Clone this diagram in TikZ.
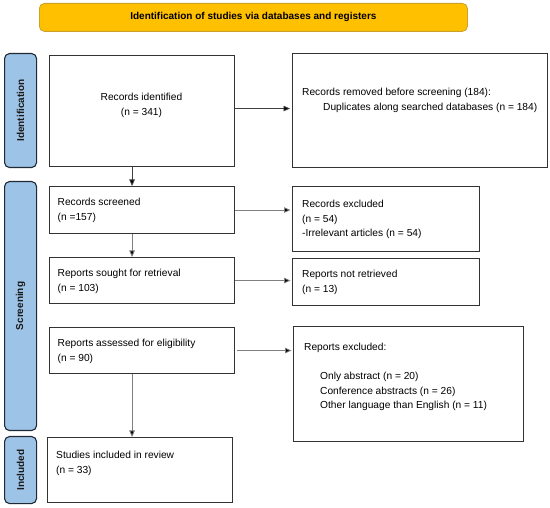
\documentclass[tikz,border=0pt]{standalone}
\usepackage{fontspec}
\setmainfont{Liberation Sans}
\usetikzlibrary{arrows.meta,calc}
\definecolor{bannerfill}{HTML}{FFC000}
\definecolor{bannerdraw}{HTML}{C9A227}
\definecolor{barfill}{HTML}{9DC3E6}
\definecolor{bardraw}{HTML}{1F2A36}
\definecolor{boxdraw}{HTML}{333333}
\definecolor{arrowline}{HTML}{7F7F7F}
\begin{document}
\begin{tikzpicture}[x=1pt,y=-1pt,
  box/.style={draw=boxdraw,line width=1.1pt,fill=white,rectangle,inner sep=0pt,anchor=north west},
  bar/.style={draw=bardraw,line width=1.1pt,fill=barfill,rounded corners=5pt,rectangle,inner sep=0pt,anchor=north west},
  barlabel/.style={rotate=90,font=\fontsize{10}{12}\selectfont\bfseries,text=black!90},
  banner/.style={draw=bannerdraw,line width=0.8pt,fill=bannerfill,rounded corners=5pt,rectangle,inner sep=0pt,anchor=north west,font=\fontsize{10}{12}\selectfont\bfseries},
  txt/.style={font=\fontsize{10.2}{14.6}\selectfont,inner sep=0pt,align=left,anchor=north west},
  ctxt/.style={font=\fontsize{10.2}{14.6}\selectfont,inner sep=0pt,align=center,anchor=north},
  arr/.style={draw=arrowline,line width=0.8pt,-{Triangle[length=6.5pt,width=5.5pt,fill=black]}},
  darr/.style={arr,draw=black!75}
]
\useasboundingbox (0,0) rectangle (550,508);

% banner
\node[banner,minimum width=428pt,minimum height=28pt] (ban) at (39,3) {Identification of studies via databases and registers};

% side bars
\node[bar,minimum width=32pt,minimum height=114pt] (b1) at (4,53) {};
\node[barlabel] at (b1.center) {Identification};
\node[bar,minimum width=32pt,minimum height=249pt] (b2) at (4,181) {};
\node[barlabel] at (b2.center) {Screening};
\node[bar,minimum width=32pt,minimum height=67pt] (b3) at (4,436) {};
\node[barlabel] at (b3.center) {Included};

% boxes
\node[box,minimum width=185pt,minimum height=111pt] (ri) at (49,55) {};
\node[box,minimum width=255pt,minimum height=114pt] (rr) at (292,53) {};
\node[box,minimum width=185pt,minimum height=47pt] (rs) at (49,186) {};
\node[box,minimum width=187pt,minimum height=65pt] (re) at (292,186) {};
\node[box,minimum width=185pt,minimum height=46pt] (rsr) at (49,257) {};
\node[box,minimum width=187pt,minimum height=47pt] (rnr) at (292,258) {};
\node[box,minimum width=185pt,minimum height=46pt] (ra) at (49,327) {};
\node[box,minimum width=230pt,minimum height=115pt] (rx) at (293,326) {};
\node[box,minimum width=185pt,minimum height=65pt] (si) at (47,437) {};

% texts
\node[ctxt] (tri) at (141.5,90) {\strut Records identified\\(n = 341)};
\node[txt] (trr) at (302,85) {\strut Records removed before screening (184):\\\hspace*{21pt}Duplicates along searched databases (n = 184)};
\node[txt] (trs) at (57.5,195) {\strut Records screened\\(n =157)};
\node[txt] (tre) at (302,197) {\strut Records excluded\\(n = 54)\\-Irrelevant articles (n = 54)};
\node[txt] (trsr) at (57.5,266) {\strut Reports sought for retrieval\\(n = 103)};
\node[txt] (trnr) at (302,267) {\strut Reports not retrieved\\(n = 13)};
\node[txt] (tra) at (57.5,336) {\strut Reports assessed for eligibility\\(n = 90)};
\node[txt] (trx) at (304,340) {\strut Reports excluded:\\\mbox{}\\\hspace*{16pt}Only abstract (n = 20)\\\hspace*{16pt}Conference abstracts (n = 26)\\\hspace*{16pt}Other language than English (n = 11)};
\node[txt] (tsi) at (56,448) {\strut Studies included in review\\(n = 33)};

% horizontal arrows
\draw[darr,shorten >=2pt] ([yshift=2.5pt]ri.east) -- ([yshift=2.5pt]ri.east -| rr.west);
\draw[arr,shorten >=1.5pt] (rs.east) -- (rs.east -| re.west);
\draw[arr,shorten >=1.5pt] (rsr.east) -- (rsr.east -| rnr.west);
\draw[arr,shorten >=1.5pt,shorten <=2pt] (ra.east) -- (ra.east -| rx.west);

% vertical arrows
\draw[darr] ([xshift=-10pt]ri.south) -- ([xshift=-10pt]ri.south |- rs.north);
\draw[arr] ([xshift=-10pt]rs.south) -- ([xshift=-10pt]rs.south |- rsr.north);
\draw[arr] ([xshift=-10pt]ra.south) -- ([xshift=-10pt]ra.south |- si.north);
\end{tikzpicture}
\end{document}
